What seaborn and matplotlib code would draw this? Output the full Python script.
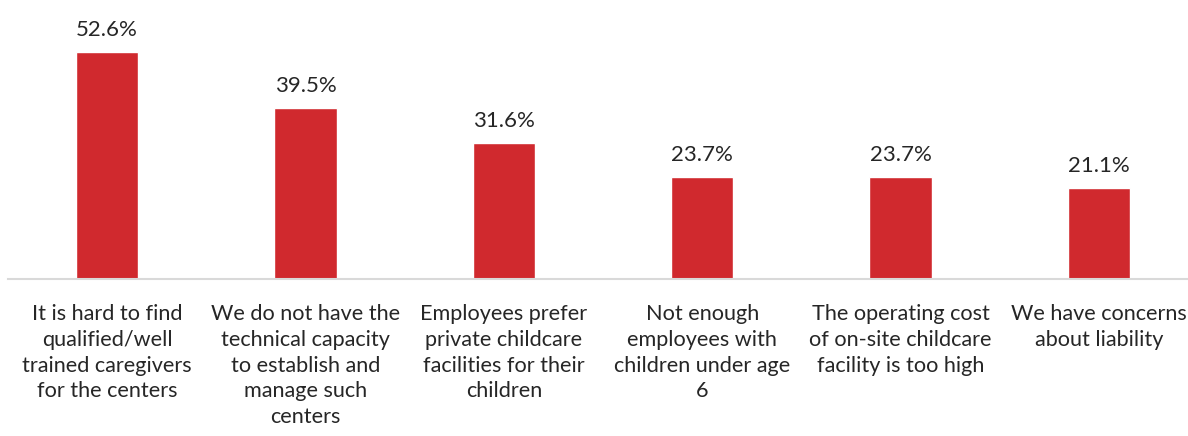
import pandas as pd
import matplotlib.pyplot as plt
import seaborn as sns

sns.set_style('white')
plt.rcParams['font.family'] = ['Lato', 'DejaVu Sans']

# reasons (wrapped as in the reference) and share of respondents
reasons = ['It is hard to find\nqualified/well\ntrained caregivers\nfor the centers',
           'We do not have the\ntechnical capacity\nto establish and\nmanage such\ncenters',
           'Employees prefer\nprivate childcare\nfacilities for their\nchildren',
           'Not enough\nemployees with\nchildren under age\n6',
           'The operating cost\nof on-site childcare\nfacility is too high',
           'We have concerns\nabout liability']
shares = [52.6, 39.5, 31.6, 23.7, 23.7, 21.1]

df = pd.DataFrame({'reason': reasons, 'share': shares})

fig = plt.figure(figsize=(11.88, 4.36), dpi=100)
ax = fig.add_axes([8/1188, 1-279/436, 1190/1188, 259/436])

sns.barplot(data=df, x='reason', y='share', color='#D0292E', width=0.313,
            saturation=1, ax=ax)

ax.set_ylim(0, 60)
ax.set_xlim(-0.5, len(reasons)-0.5)
ax.set_xlabel('')
ax.set_ylabel('')
ax.set_yticks([])
for s in ['top', 'right', 'left']:
    ax.spines[s].set_visible(False)
ax.spines['bottom'].set_color('#D9D9D9')
ax.spines['bottom'].set_linewidth(1.5)
ax.tick_params(axis='x', length=0, pad=18, labelsize=15.6)
for t in ax.get_xticklabels():
    t.set_linespacing(1.36)

for p, v in zip(ax.patches, shares):
    ax.annotate(f'{v:.1f}%', (p.get_x()+p.get_width()/2, p.get_height()),
                xytext=(0, 12), textcoords='offset pixels',
                ha='center', va='bottom', fontsize=16)

fig.savefig('out.png', dpi=100)
